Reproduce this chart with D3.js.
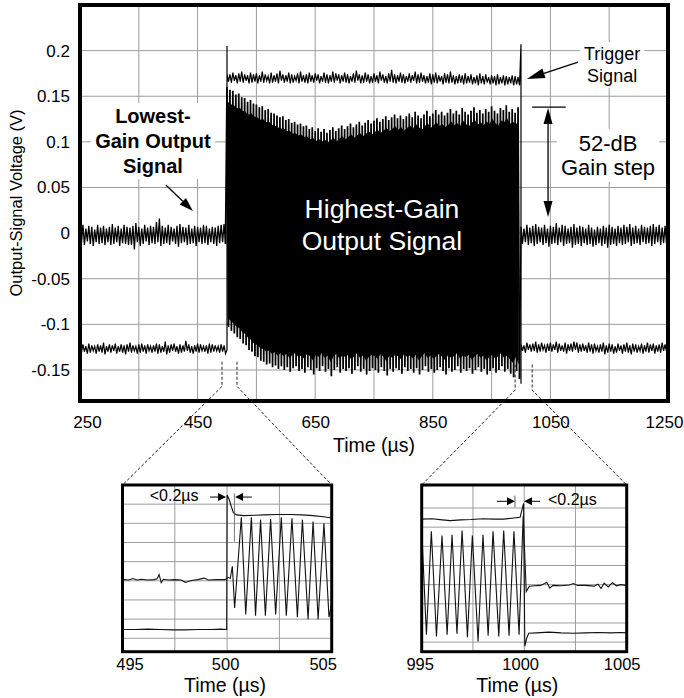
<!DOCTYPE html>
<html><head><meta charset="utf-8">
<script src="https://cdn.jsdelivr.net/npm/d3@7"></script>
<style>
body{margin:0;background:#fff;}
svg{display:block;}
</style></head><body>
<svg id="c" width="684" height="698"></svg>
<script>
// ---------------- DATA (voltages in mV, time in µs) ----------------
const binStep = 5; // µs per peak-detect bin (max at t, min at t+2.5)

// Lowest-gain output signal before the gain step (250..495)
const outPreStart = 250;
const outPreMax = [6,9,5,8,7,4,9,6,8,5, 7,10,6,8,5,9,7,6,8,11, 7,5,9,6,8,7,12,16,8,6, 9,7,5,8,10,7,6,9,5,8, 7,6,9,8,5,7,6,8,9,10];
const outPreMin = [-11,-13,-9,-12,-14,-10,-12,-11,-13,-10, -13,-12,-10,-14,-11,-12,-13,-13,-18,-10, -14,-12,-9,-13,-11,-12,-10,-14,-12,-11, -13,-9,-12,-15,-11,-10,-13,-12,-11,-14, -10,-12,-11,-13,-10,-12,-14,-11,-10,-12];

// Highest-gain output signal (500..995) envelope
const gainStart = 500;
const gainMax = [160,157,156,152,153,149,148,144,146,142, 141,138,139,135,136,132,131,129,127,128,
 124,125,121,122,119,120,117,118,114,116, 112,115,111,114,110,113,116,112,115,118,
 114,117,120,116,119,122,118,121,124,120, 123,126,122,125,128,124,127,130,126,129,
 125,128,131,127,133,129,126,130,134,128, 131,135,130,133,129,132,136,131,134,130,
 137,133,130,134,138,132,135,131,136,133, 139,134,131,137,135,140,133,136,132,138];
const gainMin = [-103,-107,-110,-114,-116,-121,-123,-128,-130,-135, -136,-140,-141,-144,-143,-147,-145,-149,-146,-150,
 -147,-152,-148,-146,-151,-149,-153,-147,-150,-155, -148,-151,-146,-152,-149,-157,-150,-147,-153,-149,
 -151,-148,-154,-150,-146,-152,-149,-155,-151,-148, -150,-153,-147,-151,-156,-149,-152,-148,-150,-154,
 -147,-151,-149,-153,-148,-155,-150,-146,-152,-149, -153,-150,-147,-151,-155,-148,-152,-150,-146,-153,
 -149,-151,-148,-154,-150,-147,-152,-149,-155,-151, -148,-153,-150,-146,-152,-149,-154,-158,-151,-160];

// Lowest-gain output signal after the gain step (1000..1245)
const outPostStart = 1000;
const outPostMax = [7,5,9,6,8,10,7,6,9,5, 8,7,11,6,9,8,5,7,10,6, 8,7,5,9,6,4,7,5,8,6, 9,7,5,8,6,9,7,10,6,8, 5,9,7,6,8,10,7,9,6,8];
const outPostMin = [-12,-10,-13,-11,-14,-12,-10,-13,-11,-15, -12,-11,-13,-10,-14,-12,-11,-16,-13,-12, -14,-11,-13,-12,-15,-13,-11,-14,-12,-16, -13,-12,-14,-11,-13,-12,-10,-14,-12,-11, -13,-10,-12,-11,-14,-12,-10,-13,-11,-12];

// Trigger signal
const trigPreMax = [-123,-122,-124,-121,-123,-124,-122,-123,-120,-124, -122,-123,-121,-124,-122,-123,-122,-120,-123,-124, -122,-121,-123,-122,-124,-123,-121,-122,-124,-119, -123,-122,-121,-124,-122,-123,-118,-122,-124,-123, -121,-122,-124,-123,-121,-122,-123,-124,-122,-123];
const trigPreMin = [-131,-130,-132,-131,-129,-132,-130,-131,-133,-130, -131,-129,-132,-130,-131,-133,-130,-131,-129,-132, -131,-130,-132,-129,-131,-130,-132,-131,-130,-133, -131,-129,-130,-132,-131,-130,-129,-131,-132,-130, -131,-129,-130,-132,-131,-130,-129,-131,-130,-132];
const trigHighMax = [175,174,176,173,175,177,174,173,176,174, 175,173,177,174,172,176,173,175,178,174,
 173,176,174,172,175,177,173,174,176,173, 175,174,172,176,174,173,177,175,174,173,
 176,174,172,175,178,174,173,176,174,172, 175,173,177,174,172,175,179,174,173,176,
 174,172,175,173,177,174,176,173,172,175, 174,176,173,172,175,174,177,173,172,174,
 173,175,172,174,171,173,175,172,174,171, 173,172,174,171,173,172,171,173,172,171];
const trigHighMin = [166,165,167,164,166,165,167,164,165,166, 164,166,165,167,164,165,166,164,167,165,
 166,164,165,167,164,166,165,164,166,165, 167,164,166,165,164,166,165,167,164,166,
 165,164,166,165,167,164,165,166,164,165, 166,164,167,165,164,166,165,164,166,165,
 164,166,165,167,164,165,166,164,165,163, 165,164,166,163,165,164,165,163,164,165,
 163,164,165,163,164,162,164,163,165,163, 164,162,163,164,162,163,164,162,163,162];
const trigPostMax = [-121,-123,-120,-122,-121,-119,-122,-120,-123,-121, -120,-122,-119,-121,-123,-120,-122,-121,-119,-120, -122,-121,-123,-120,-122,-121,-124,-122,-120,-123, -121,-122,-124,-121,-123,-122,-120,-123,-121,-122, -124,-121,-123,-120,-122,-121,-123,-122,-120,-122];
const trigPostMin = [-129,-131,-128,-130,-129,-131,-130,-128,-131,-129, -130,-128,-131,-129,-130,-132,-129,-130,-128,-131, -130,-129,-131,-130,-132,-129,-131,-130,-133,-131, -130,-132,-131,-129,-132,-130,-131,-133,-130,-131, -129,-132,-130,-131,-129,-132,-130,-131,-129,-130];
const trigRiseT = [500, 500];   const trigRiseV = [-128, 205];
const trigFallT = [1000, 1000]; const trigFallV = [207, -165];

// Main axes
const mainXDomain = [250, 1250];
const mainYDomain = [-0.184, 0.25];
const mainXTicks = [250, 450, 650, 850, 1050, 1250];
const mainXGrid = [350, 450, 550, 650, 750, 850, 950, 1050, 1150];
const mainYTicks = [-0.15, -0.1, -0.05, 0, 0.05, 0.1, 0.15, 0.2];

// Inset 1 (495..505 µs): [time µs, mV]
const in1XTicks = [495, 500, 505];
const in1Grid = [497.5, 500, 502.5];
const in1Trig = [[495,-127],[495.6,-127],[496.2,-126],[496.8,-127],[497.4,-128],[498,-128],[498.6,-127],[499.2,-127],[499.7,-126],[499.98,-127],
 [500.0,224],[500.1,212],[500.2,194],[500.3,178],[500.45,172],[500.8,170],[501.3,171],[501.8,172],[502.4,173],[503,173],[503.6,172],[504.1,170],[504.6,167],[505,164]];
const in1Out = [[495,3],[495.3,2],[495.5,6],[495.7,2],[495.9,4],[496.2,2],[496.5,3],[496.65,5],[496.75,16],[496.85,-5],[496.95,4],[497.2,2],[497.5,3],[497.8,2],[498.0,-4],[498.15,-2],[498.3,1],[498.6,3],[498.9,7],[499.1,2],[499.5,3],[499.9,3],
 [500.05,9],[500.15,6],[500.25,38],[500.36,-71],[500.68,166],[500.89,-88],[501.16,166],[501.36,-91],[501.60,159],[501.83,-91],[502.08,161],[502.32,-88],[502.59,166],[502.83,-91],[503.10,163],[503.36,-95],[503.60,159],[503.87,-100],[504.11,155],[504.35,-100],[504.63,150],[504.87,-95],[505,-60]];

// Inset 2 (995..1005 µs)
const in2XTicks = [995, 1000, 1005];
const in2Grid = [997.5, 1000, 1002.5];
const in2Trig = [[995,171],[995.5,172],[996,169],[996.4,167],[996.9,169],[997.4,170],[998,172],[998.5,171],[999,171],[999.5,174],[999.8,176],[999.97,212],
 [1000.03,-161],[1000.12,-140],[1000.22,-127],[1000.6,-126],[1001.2,-124],[1001.8,-126],[1002.4,-127],[1003,-126],[1003.6,-125],[1004.2,-126],[1004.7,-125],[1005,-126]];
const in2Out = [[995,143],[995.23,-131],[995.47,139],[995.72,-135],[995.99,128],[996.24,-131],[996.48,130],[996.72,-128],[996.97,141],[997.23,-137],[997.47,128],[997.75,-148],[997.99,130],[998.24,-133],[998.48,139],[998.76,-135],[999.0,141],[999.26,-133],[999.5,139],[999.75,-131],[999.95,180],
 [1000.1,-18],[1000.25,-4],[1000.5,-3],[1000.8,-2],[1001.0,3],[1001.1,6],[1001.25,-9],[1001.4,-2],[1001.8,-3],[1002.2,-1],[1002.4,3],[1002.6,-2],[1003.0,-2],[1003.4,-4],[1003.6,1],[1003.75,-10],[1003.9,4],[1004.1,-6],[1004.3,5],[1004.5,-3],[1004.7,0],[1005,-2]];

// ---------------- DRAWING ----------------
const FONT = '"Liberation Sans", Arial, Helvetica, sans-serif';
const svg = d3.select('#c').attr('font-family', FONT);
const GRID = '#9c9c9c';

function zig(start, maxA, minA) {
  const pts = [];
  maxA.forEach((m, i) => { pts.push([start + binStep*i, m]); pts.push([start + binStep*i + binStep/2, minA[i]]); });
  return pts;
}
const pairs = (T, V) => T.map((t, i) => [t, V[i]]);
const fmt = d => String(+d.toFixed(2));

function arrowHead(g, x1, y1, x2, y2, len, w) {
  const a = Math.atan2(y2 - y1, x2 - x1);
  const bx = x2 - len*Math.cos(a), by = y2 - len*Math.sin(a);
  const px = -Math.sin(a)*w, py = Math.cos(a)*w;
  g.append('path').attr('d', `M${x2},${y2}L${bx+px},${by+py}L${bx-px},${by-py}Z`).attr('fill', '#000');
  return [bx, by];
}
function arrow(g, x1, y1, x2, y2, len, w, sw) {
  const [bx, by] = arrowHead(g, x1, y1, x2, y2, len, w);
  g.append('line').attr('x1', x1).attr('y1', y1).attr('x2', bx).attr('y2', by).attr('stroke', '#000').attr('stroke-width', sw || 1.3);
}
function textBlock(g, lines, cx, by, lh, size, opt) {
  opt = opt || {};
  const t = g.append('text').attr('text-anchor', 'middle').attr('font-size', size)
    .attr('font-weight', opt.weight || 'normal').attr('fill', opt.fill || '#000');
  lines.forEach((s, i) => t.append('tspan').attr('x', cx).attr('y', by + i*lh).text(s));
  if (opt.box) {
    const b = t.node().getBBox();
    g.insert('rect', () => t.node()).attr('x', b.x - 4).attr('y', b.y - 2).attr('width', b.width + 8).attr('height', b.height + 4).attr('fill', '#fff');
  }
  return t;
}

// ---- Main chart ----
const x = d3.scaleLinear().domain(mainXDomain).range([80, 668]);
const y = d3.scaleLinear().domain(mainYDomain).range([401, 5]);
const main = svg.append('g');

main.selectAll('line.vg').data(mainXGrid).join('line').attr('class', 'vg')
  .attr('x1', d => x(d)).attr('x2', d => x(d)).attr('y1', y.range()[0]).attr('y2', y.range()[1])
  .attr('stroke', GRID).attr('stroke-width', 1);
main.selectAll('line.hg').data(mainYTicks).join('line').attr('class', 'hg')
  .attr('x1', x.range()[0]).attr('x2', x.range()[1]).attr('y1', d => y(d)).attr('y2', d => y(d))
  .attr('stroke', GRID).attr('stroke-width', 1);

const annot = svg.append('g');
textBlock(annot, ['Lowest-', 'Gain Output', 'Signal'], x(374), y(0.1206), 25, 20, {weight: 'bold', box: true});
textBlock(annot, ['Trigger', 'Signal'], x(1155), y(0.1896), 22, 18, {box: true});
textBlock(annot, ['52-dB', 'Gain step'], x(1148), y(0.09), 24, 22, {box: true});

const line = d3.line().x(d => x(d[0])).y(d => y(d[1]/1000));
const outPre = zig(outPreStart, outPreMax, outPreMin);
const gainTrace = [outPre[outPre.length - 1]].concat(zig(gainStart, gainMax, gainMin));
const outPost = [gainTrace[gainTrace.length - 1]].concat(zig(outPostStart, outPostMax, outPostMin));
const trigTrace = zig(outPreStart, trigPreMax, trigPreMin)
  .concat(pairs(trigRiseT, trigRiseV))
  .concat(zig(gainStart, trigHighMax, trigHighMin))
  .concat(pairs(trigFallT, trigFallV))
  .concat(zig(outPostStart, trigPostMax, trigPostMin));

// dense core of the highest-gain burst (inner part of the envelope is fully inked on the scope)
const gainCore = d3.area()
  .x((d, i) => x(gainStart + binStep*i + binStep/4))
  .y0((d, i) => y(0.9*gainMin[i]/1000))
  .y1((d, i) => y(0.9*gainMax[i]/1000));
main.append('path').attr('d', gainCore(gainMax)).attr('fill', '#000');

main.append('path').attr('d', line(outPre)).attr('fill', 'none').attr('stroke', '#000').attr('stroke-width', 1.3);
main.append('path').attr('d', line(gainTrace)).attr('fill', 'none').attr('stroke', '#000').attr('stroke-width', 1.75);
main.append('path').attr('d', line(outPost)).attr('fill', 'none').attr('stroke', '#000').attr('stroke-width', 1.3);
main.append('path').attr('d', line(trigTrace)).attr('fill', 'none').attr('stroke', '#000').attr('stroke-width', 1.2);

textBlock(annot, ['Highest-Gain', 'Output Signal'], x(763.5), y(0.0166), 32, 26.5, {fill: '#fff'});
svg.node().appendChild(annot.node());

// arrows
arrow(annot, x(396), y(0.0527), x(442), y(0.0242), 14, 4.5, 1.3);
arrow(annot, x(1097), y(0.1875), x(1010), y(0.1689), 18, 5, 1.3);
annot.append('line').attr('x1', x(1019)).attr('x2', x(1076)).attr('y1', y(0.138)).attr('y2', y(0.138)).attr('stroke', '#000').attr('stroke-width', 1.3);
{
  const ax = x(1046), yt = y(0.137), yb = y(0.0177);
  const [, b1] = arrowHead(annot, ax, yb, ax, yt, 16, 4.5);
  const [, b2] = arrowHead(annot, ax, yt, ax, yb, 16, 4.5);
  annot.append('line').attr('x1', ax).attr('x2', ax).attr('y1', b1).attr('y2', b2).attr('stroke', '#000').attr('stroke-width', 1.3);
}

// axes
const yAxis = d3.axisLeft(y).tickValues(mainYTicks).tickSize(0).tickPadding(10).tickFormat(fmt);
svg.append('g').attr('transform', 'translate(80,0)').call(yAxis)
  .call(a => a.select('.domain').remove())
  .attr('font-size', 17).attr('font-family', FONT)
  .selectAll('text').attr('fill', '#000');
const xAxis = d3.axisBottom(x).tickValues(mainXTicks).tickSize(0).tickPadding(15).tickFormat(d => String(d));
svg.append('g').attr('transform', 'translate(0,401)').call(xAxis)
  .call(a => a.select('.domain').remove())
  .attr('font-size', 17).attr('font-family', FONT)
  .selectAll('text').attr('fill', '#000')
  .attr('dx', d => d === 250 ? 7 : (d === 1250 ? -4 : 0));
svg.append('text').attr('x', 16).attr('y', (y.range()[0] + y.range()[1]) / 2)
  .attr('transform', `rotate(-90,16,${(y.range()[0] + y.range()[1]) / 2})`)
  .attr('text-anchor', 'middle').attr('dominant-baseline', 'central').attr('font-size', 16.5).text('Output-Signal Voltage (V)');
svg.append('text').attr('x', (x.range()[0] + x.range()[1]) / 2).attr('y', 452)
  .attr('text-anchor', 'middle').attr('font-size', 19.5).text('Time (µs)');

// frame
svg.append('rect').attr('x', 80).attr('y', 5).attr('width', 588).attr('height', 396)
  .attr('fill', 'none').attr('stroke', '#000').attr('stroke-width', 4);

// ---- Insets ----
function drawInset(cfg) {
  const ix = d3.scaleLinear().domain(cfg.xDomain).range(cfg.xRange);
  const iy = d3.scaleLinear().domain(cfg.yDomain).range(cfg.yRange);
  const g = svg.append('g');
  g.selectAll('line.vg').data(cfg.grid).join('line').attr('class', 'vg')
    .attr('x1', d => ix(d)).attr('x2', d => ix(d)).attr('y1', cfg.yRange[0]).attr('y2', cfg.yRange[1])
    .attr('stroke', GRID).attr('stroke-width', 1);
  g.selectAll('line.hg').data(mainYTicks).join('line').attr('class', 'hg')
    .attr('x1', cfg.xRange[0]).attr('x2', cfg.xRange[1]).attr('y1', d => iy(d)).attr('y2', d => iy(d))
    .attr('stroke', GRID).attr('stroke-width', 1);
  const l = d3.line().x(d => ix(d[0])).y(d => iy(d[1]/1000));
  cfg.traces.forEach(tr => g.append('path').attr('d', l(tr)).attr('fill', 'none').attr('stroke', '#111').attr('stroke-width', 1.1));
  const ax = d3.axisBottom(ix).tickValues(cfg.ticks).tickSize(0).tickPadding(7).tickFormat(d => String(d));
  svg.append('g').attr('transform', `translate(0,${cfg.yRange[0]})`).call(ax)
    .call(a => a.select('.domain').remove())
    .attr('font-size', 16.5).attr('font-family', FONT)
    .selectAll('text').attr('fill', '#000').attr('dx', (d, i) => cfg.nudge[i]);
  svg.append('text').attr('x', (cfg.xRange[0] + cfg.xRange[1]) / 2 + cfg.titleDx).attr('y', 692)
    .attr('text-anchor', 'middle').attr('font-size', 19.5).text('Time (µs)');
  svg.append('rect').attr('x', cfg.xRange[0]).attr('y', cfg.yRange[1]).attr('width', cfg.xRange[1] - cfg.xRange[0]).attr('height', cfg.yRange[0] - cfg.yRange[1])
    .attr('fill', 'none').attr('stroke', '#000').attr('stroke-width', 3);
  return {ix, iy, g};
}

const I1 = drawInset({xDomain: [495, 505], xRange: [122.5, 331.7], yDomain: [-0.185, 0.25], yRange: [651.7, 485],
  grid: in1Grid, ticks: in1XTicks, nudge: [7, -2, -9], titleDx: -2, traces: [in1Trig, in1Out]});
const I2 = drawInset({xDomain: [995, 1005], xRange: [421.7, 626.7], yDomain: [-0.175, 0.26], yRange: [651.7, 485],
  grid: in2Grid, ticks: in2XTicks, nudge: [-2, -4, -5], titleDx: -7, traces: [in2Trig, in2Out]});

// inset annotations "<0.2µs"
{
  const g = I1.g, ix = I1.ix, iy = I1.iy, ya = iy(0.2185);
  g.append('text').attr('x', ix(496.3)).attr('y', iy(0.208)).attr('font-size', 16).text('<0.2µs');
  arrow(g, ix(499.18), ya, ix(499.95), ya, 8, 4, 1);
  arrow(g, ix(501.18), ya, ix(500.38), ya, 8, 4, 1);
  g.append('line').attr('x1', ix(500.35)).attr('x2', ix(500.35)).attr('y1', iy(0.228)).attr('y2', iy(0.102)).attr('stroke', '#555').attr('stroke-width', 0.8);
}
{
  const g = I2.g, ix = I2.ix, iy = I2.iy, ya = iy(0.2175);
  g.append('text').attr('x', ix(1001.16)).attr('y', iy(0.207)).attr('font-size', 16).text('<0.2µs');
  arrow(g, ix(998.67), ya, ix(999.55), ya, 8, 4, 1);
  arrow(g, ix(1000.77), ya, ix(999.99), ya, 8, 4, 1);
  g.append('line').attr('x1', ix(999.55)).attr('x2', ix(999.55)).attr('y1', iy(0.232)).attr('y2', iy(0.202)).attr('stroke', '#333').attr('stroke-width', 0.8);
}

// zoom marker dashed lines
const zoomMarks = [
  {t: [491.5, 517], v: [-0.141, -0.168], inset: [122.5, 331.7]},
  {t: [990, 1019], v: [-0.144, -0.172], inset: [421.7, 626.7]}
];
zoomMarks.forEach(m => {
  m.t.forEach((t, i) => {
    svg.append('path').attr('d', `M${x(t)},${y(m.v[0])}L${x(t)},${y(m.v[1])}L${m.inset[i]},485`)
      .attr('fill', 'none').attr('stroke', '#222').attr('stroke-width', 1).attr('stroke-dasharray', '3,2');
  });
});
</script></body></html>
